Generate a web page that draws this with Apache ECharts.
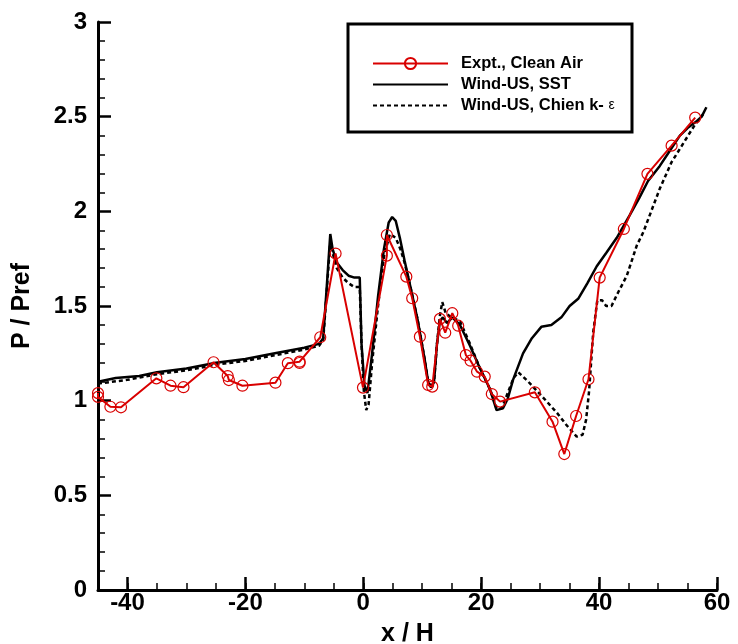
<!DOCTYPE html>
<html>
<head>
<meta charset="utf-8">
<script src="https://cdn.jsdelivr.net/npm/echarts@6/dist/echarts.min.js"></script>
<style>html,body{margin:0;padding:0;background:#fff}#c{width:738px;height:644px}</style>
</head>
<body>
<div id="c"></div>
<script>
// Experimental data (Expt., Clean Air)
const exptX = [-45, -45, -42.9, -41.1, -35.1, -32.7, -30.5, -25.4, -23.0, -22.8, -20.5, -14.9, -12.8, -10.8, -10.8, -7.3, -4.7, -0.05, 4.0, 4.0, 7.3, 8.3, 9.6, 11.0, 11.7, 13.0, 13.9, 15.1, 16.1, 17.4, 18.2, 19.3, 20.6, 21.8, 23.2, 29.1, 32.1, 34.1, 36.1, 38.2, 40.1, 44.2, 48.2, 52.3, 56.3];
const exptY = [1.04, 1.02, 0.968, 0.965, 1.118, 1.079, 1.071, 1.203, 1.130, 1.109, 1.079, 1.095, 1.198, 1.206, 1.199, 1.335, 1.777, 1.069, 1.766, 1.875, 1.655, 1.541, 1.338, 1.083, 1.074, 1.432, 1.359, 1.462, 1.396, 1.241, 1.211, 1.153, 1.127, 1.035, 0.995, 1.044, 0.889, 0.718, 0.919, 1.113, 1.650, 1.907, 2.198, 2.347, 2.495];

// Wind-US, SST
const sstX = [-45, -42, -38, -35, -30, -25, -20, -15, -10, -7.5, -6.8, -6.2, -5.6, -5.2, -4.5, -3.5, -2.5, -1.5, -0.6, -0.3, 0.2, 0.7, 1.5, 2.5, 3.5, 4.3, 4.9, 5.5, 6.2, 7.0, 8.0, 9.2, 10.4, 11.0, 11.5, 12.0, 12.5, 13.0, 13.5, 14.2, 15.1, 16.4, 18.1, 19.8, 21.5, 22.6, 23.7, 24.5, 25.4, 27.1, 28.6, 30.2, 31.9, 33.6, 35.0, 36.5, 38.0, 39.6, 41.2, 43.0, 45.2, 46.8, 48.3, 50.3, 52.0, 53.7, 55.0, 56.3, 57.4, 58.2];
const sstY = [1.10, 1.12, 1.13, 1.15, 1.17, 1.20, 1.22, 1.25, 1.28, 1.30, 1.33, 1.60, 1.88, 1.80, 1.73, 1.69, 1.66, 1.65, 1.65, 1.30, 1.08, 1.04, 1.25, 1.55, 1.80, 1.94, 1.97, 1.95, 1.86, 1.74, 1.60, 1.43, 1.22, 1.10, 1.07, 1.10, 1.30, 1.42, 1.44, 1.41, 1.44, 1.40, 1.29, 1.17, 1.06, 0.95, 0.96, 1.01, 1.11, 1.25, 1.33, 1.39, 1.40, 1.44, 1.50, 1.54, 1.62, 1.71, 1.78, 1.86, 1.98, 2.07, 2.16, 2.24, 2.32, 2.40, 2.44, 2.47, 2.50, 2.55];

// Wind-US, Chien k-epsilon
const keX = [-45, -40, -35, -30, -25, -20, -15, -10, -7.5, -6.8, -6.2, -5.6, -5.2, -4.5, -3.5, -2.5, -1.5, -0.6, -0.3, 0.1, 0.5, 0.9, 1.5, 2.5, 3.5, 4.5, 5.5, 6.3, 7.0, 8.0, 9.2, 10.4, 11.0, 11.5, 12.0, 12.5, 13.0, 13.4, 14.0, 15.0, 16.4, 18.1, 19.8, 21.5, 22.6, 23.5, 24.5, 25.5, 26.3, 28.0, 31.0, 33.0, 34.5, 36.2, 37.2, 37.8, 38.3, 39.0, 39.7, 40.5, 41.2, 42.1, 43.2, 44.7, 46.4, 47.5, 50.3, 52.3, 54.3, 56.3, 57.1, 57.8];
const keY = [1.09, 1.11, 1.14, 1.16, 1.19, 1.21, 1.24, 1.27, 1.29, 1.32, 1.58, 1.84, 1.78, 1.70, 1.65, 1.62, 1.60, 1.60, 1.30, 1.05, 0.95, 0.98, 1.20, 1.50, 1.76, 1.88, 1.86, 1.80, 1.73, 1.60, 1.43, 1.22, 1.10, 1.07, 1.10, 1.30, 1.45, 1.52, 1.46, 1.44, 1.42, 1.30, 1.17, 1.06, 0.96, 0.96, 1.04, 1.12, 1.15, 1.10, 1.00, 0.93, 0.87, 0.81, 0.82, 0.90, 1.05, 1.36, 1.53, 1.53, 1.50, 1.50, 1.57, 1.66, 1.82, 1.89, 2.12, 2.26, 2.36, 2.46, 2.49, 2.52];

const xMajorTicks = [-40, -20, 0, 20, 40, 60];
const seriesNames = ['Expt., Clean Air', 'Wind-US, SST', 'Wind-US, Chien k- ε'];

const zip = (a, b) => a.map((v, i) => [v, b[i]]);
const FONT = '"Liberation Sans", Arial, Helvetica, sans-serif';

const chart = echarts.init(document.getElementById('c'), null, {renderer: 'canvas'});
chart.setOption({
  backgroundColor: '#fff',
  animation: false,
  grid: {left: 98, right: 21, top: 22, bottom: 54, containLabel: false, outerBoundsMode: 'none'},
  xAxis: [{
    type: 'value', min: -45, max: 60,
    name: 'x / H', nameLocation: 'middle', nameGap: 32,
    nameTextStyle: {fontFamily: FONT, fontWeight: 'bold', fontSize: 25, color: '#000'},
    axisLine: {show: true, onZero: false, lineStyle: {color: '#000', width: 3}},
    axisTick: {show: true, inside: true, length: 13, lineStyle: {color: '#000', width: 2.5}, customValues: xMajorTicks},
    axisLabel: {show: true, margin: 1, fontFamily: FONT, fontWeight: 'bold', fontSize: 24, color: '#000', customValues: xMajorTicks},
    splitLine: {show: false}
  }, {
    type: 'value', min: -45, max: 60, interval: 5, position: 'bottom',
    axisLine: {show: false},
    axisTick: {show: true, inside: true, length: 7, lineStyle: {color: '#000', width: 1.5}},
    axisLabel: {show: false},
    splitLine: {show: false}
  }],
  yAxis: {
    type: 'value', min: 0, max: 3, interval: 0.5,
    name: 'P / Pref', nameLocation: 'middle', nameGap: 63, nameRotate: 90,
    nameTextStyle: {fontFamily: FONT, fontWeight: 'bold', fontSize: 25, color: '#000'},
    axisLine: {show: true, onZero: false, lineStyle: {color: '#000', width: 3}},
    axisTick: {show: true, inside: true, length: 13, lineStyle: {color: '#000', width: 2.5}},
    minorTick: {show: true, splitNumber: 5, length: 7, lineStyle: {color: '#000', width: 1.5}},
    axisLabel: {margin: 11, fontFamily: FONT, fontWeight: 'bold', fontSize: 24, color: '#000'},
    splitLine: {show: false}
  },
  graphic: [{
    type: 'rect', z: 100,
    shape: {x: 348, y: 24, width: 284, height: 108},
    style: {fill: '#fff', stroke: '#000', lineWidth: 3}
  }],
  legend: {
    z: 110, orient: 'vertical', left: 372, top: 55,
    itemWidth: 75, itemHeight: 14, itemGap: 4, padding: 0,
    data: [
      {name: seriesNames[0]},
      {name: seriesNames[1], itemStyle: {opacity: 0}},
      {name: seriesNames[2], itemStyle: {opacity: 0}}
    ],
    textStyle: {fontFamily: FONT, fontWeight: 'bold', fontSize: 16.5, color: '#000', lineHeight: 16, padding: [0, 0, 0, 8],
      rich: {e: {fontFamily: FONT, fontWeight: 'normal', fontSize: 14, color: '#000', lineHeight: 16}}},
    formatter: function (n) { return n.indexOf('ε') >= 0 ? n.replace(' ε', ' {e|ε}') : n; }
  },
  series: [{
    name: seriesNames[2], type: 'line', xAxisIndex: 0, data: zip(keX, keY), showSymbol: false, symbol: 'none',
    lineStyle: {color: '#000', width: 2.5, type: [4, 3]}, itemStyle: {color: '#000'}, z: 3
  }, {
    name: seriesNames[1], type: 'line', xAxisIndex: 0, data: zip(sstX, sstY), showSymbol: false, symbol: 'none',
    lineStyle: {color: '#000', width: 2.5}, itemStyle: {color: '#000'}, z: 4
  }, {
    name: seriesNames[0], type: 'line', xAxisIndex: 0, data: zip(exptX, exptY),
    symbol: 'circle', symbolSize: 11, showAllSymbol: true,
    lineStyle: {color: '#d90000', width: 2},
    itemStyle: {color: 'rgba(0,0,0,0)', borderColor: '#d90000', borderWidth: 1.2}, z: 5
  }]
});
</script>
</body>
</html>
